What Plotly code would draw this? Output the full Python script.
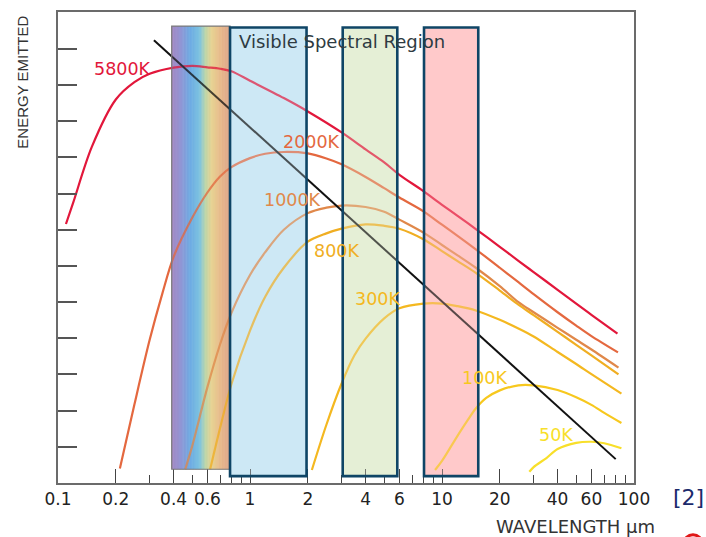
import numpy as np
import plotly.graph_objects as go

# ---------------- data (wavelength in um, energy in tick units) ----------------
wl_5800 = [0.11, 0.12, 0.15, 0.2, 0.25, 0.3, 0.4, 0.5, 0.6, 0.7, 0.8, 1, 1.5, 2, 3, 4, 5, 6, 8, 10, 12, 15, 20, 25, 30, 40, 50, 60, 82]
en_5800 = [7.16, 7.75, 9.29, 10.60, 11.08, 11.31, 11.48, 11.53, 11.49, 11.45, 11.38, 11.12, 10.64, 10.27, 9.69, 9.22, 8.86, 8.52, 8.07, 7.69, 7.39, 7.02, 6.53, 6.14, 5.83, 5.34, 4.96, 4.65, 4.13]

wl_2000 = [0.21, 0.25, 0.3, 0.35, 0.4, 0.5, 0.6, 0.7, 0.8, 1, 1.2, 1.5, 2, 2.5, 3, 4, 5, 6, 8, 10, 12, 15, 20, 25, 30, 40, 50, 60, 82.5]
en_2000 = [0.40, 2.17, 3.95, 5.25, 6.25, 7.33, 8.03, 8.48, 8.73, 8.98, 9.10, 9.15, 9.11, 8.97, 8.81, 8.46, 8.15, 7.89, 7.51, 7.14, 6.84, 6.46, 5.95, 5.55, 5.22, 4.72, 4.35, 4.06, 3.61]

wl_1000 = [0.46, 0.5, 0.6, 0.7, 0.8, 1, 1.2, 1.5, 2, 2.5, 3, 4, 5, 6, 8, 10, 12, 15, 20, 25, 30, 40, 50, 60, 83]
en_1000 = [0.38, 1.02, 2.65, 3.85, 4.70, 5.75, 6.38, 7.00, 7.46, 7.61, 7.67, 7.63, 7.50, 7.28, 6.92, 6.58, 6.30, 5.95, 5.44, 5.00, 4.72, 4.29, 3.96, 3.69, 3.19]

wl_800 = [0.62, 0.7, 0.8, 1, 1.2, 1.5, 2, 2.5, 3, 4, 5, 6, 8, 10, 12, 15, 20, 25, 30, 40, 50, 60, 83]
en_800 = [0.38, 1.54, 2.73, 4.21, 5.15, 5.95, 6.67, 6.90, 7.03, 7.15, 7.11, 7.03, 6.74, 6.41, 6.14, 5.81, 5.32, 4.93, 4.64, 4.18, 3.82, 3.53, 3.00]

wl_300 = [2.1, 2.5, 3, 3.5, 4, 5, 6, 8, 10, 12, 15, 20, 25, 30, 40, 50, 60, 86]
en_300 = [0.36, 1.61, 2.75, 3.53, 3.99, 4.55, 4.83, 4.96, 4.96, 4.89, 4.77, 4.51, 4.27, 4.05, 3.62, 3.29, 3.01, 2.47]

wl_100 = [9.2, 10, 12, 13.5, 15, 17, 20, 25, 30, 40, 50, 60, 70, 86]
en_100 = [0.36, 0.61, 1.29, 1.71, 2.06, 2.35, 2.56, 2.70, 2.70, 2.57, 2.37, 2.16, 1.94, 1.66]

wl_50 = [28.5, 30, 35, 40, 50, 60, 70, 86]
en_50 = [0.31, 0.44, 0.69, 0.94, 1.11, 1.14, 1.10, 0.96]

wien_wl = [0.316, 80.3]
wien_en = [12.24, 0.66]

curve_names = ["5800K", "2000K", "1000K", "800K", "300K", "100K", "50K"]
label_wl = [0.218, 2.08, 1.66, 2.81, 4.61, 16.55, 39.3]
label_en = [11.45, 9.42, 7.81, 6.41, 5.09, 2.91, 1.32]

spectrum_wl = [0.391, 0.787]
spectrum_en = [0.38, 12.63]
window_wl = [[0.787, 1.97], [3.04, 5.85], [8.06, 15.45]]
window_en = [0.19, 12.59]

x_tickvals = [0.1, 0.2, 0.4, 0.6, 1, 2, 4, 6, 10, 20, 40, 60, 100]
x_ticktext = ["0.1", "0.2", "0.4", "0.6", "1", "2", "4", "6", "10", "20", "40", "60", "100"]
x_minor = [0.3, 0.5, 0.7, 0.8, 0.9, 3, 5, 7, 8, 9, 30, 50, 70, 80, 90]
y_tickvals = [1, 2, 3, 4, 5, 6, 7, 8, 9, 10, 11, 12]

# ---------------- styles / layout geometry ----------------
curve_colors = ["#e2173b", "#e4683f", "#e0884a", "#f0ae22", "#f4b820", "#f7c81e", "#f8df2a"]
window_fill = ["#cde9f5", "#e6f0d6", "#ffc9ca"]
border_col = "#0f4566"
W, H = 706, 537
ML, MR, MT, MB = 58, 72, 10, 54
PW, PH = W - ML - MR, H - MT - MB
FONT = "DejaVu Sans"

def px2paper(px, py):
    return (px - ML) / PW, (MT + PH - py) / PH

fig = go.Figure()

series = [(wl_5800, en_5800), (wl_2000, en_2000), (wl_1000, en_1000), (wl_800, en_800),
          (wl_300, en_300), (wl_100, en_100), (wl_50, en_50)]
for (wl, en), name, col in zip(series, curve_names, curve_colors):
    fig.add_trace(go.Scatter(x=wl, y=en, mode="lines", name=name,
                             line=dict(color=col, width=2.2, shape="spline", smoothing=0.9),
                             hoverinfo="skip"))
fig.add_trace(go.Scatter(x=wien_wl, y=wien_en, mode="lines", line=dict(color="#111111", width=2),
                         hoverinfo="skip"))

# spectrum gradient
stops = [(0.0, (164, 136, 196)), (0.15, (148, 150, 212)), (0.32, (110, 172, 228)),
         (0.48, (126, 196, 224)), (0.58, (190, 214, 168)), (0.68, (232, 212, 148)),
         (0.84, (232, 186, 140)), (1.0, (222, 166, 140))]

def grad(t):
    for (t0, c0), (t1, c1) in zip(stops[:-1], stops[1:]):
        if t <= t1:
            f = (t - t0) / (t1 - t0)
            return tuple(int(round(a + (b - a) * f)) for a, b in zip(c0, c1))
    return stops[-1][1]

shapes = []
N = 40
l0, l1 = np.log10(spectrum_wl[0]), np.log10(spectrum_wl[1])
edges = np.linspace(l0, l1, N + 1)
for i in range(N):
    c = grad((i + 0.5) / N)
    # solid strip under the curves (slightly overlapping to hide seams)
    shapes.append(dict(type="rect", xref="x", yref="y", layer="below",
                       x0=10 ** edges[i], x1=10 ** edges[i + 1] * 1.006,
                       y0=spectrum_en[0], y1=spectrum_en[1],
                       fillcolor=f"rgb({c[0]},{c[1]},{c[2]})", line=dict(width=0)))
    # translucent tint over the curves (no overlap)
    shapes.append(dict(type="rect", xref="x", yref="y", layer="above",
                       x0=10 ** edges[i], x1=10 ** edges[i + 1],
                       y0=spectrum_en[0], y1=spectrum_en[1],
                       fillcolor=f"rgba({c[0]},{c[1]},{c[2]},0.25)", line=dict(width=0)))
shapes.append(dict(type="rect", xref="x", yref="y", layer="above",
                   x0=spectrum_wl[0], x1=spectrum_wl[1], y0=spectrum_en[0], y1=spectrum_en[1],
                   fillcolor="rgba(0,0,0,0)", line=dict(color="#7a7a7a", width=1.2)))

for (a, b), fc in zip(window_wl, window_fill):
    shapes.append(dict(type="rect", xref="x", yref="y", layer="below", x0=a, x1=b,
                       y0=window_en[0], y1=window_en[1], fillcolor=fc, line=dict(width=0)))
    r, g, bb = int(fc[1:3], 16), int(fc[3:5], 16), int(fc[5:7], 16)
    shapes.append(dict(type="rect", xref="x", yref="y", layer="above", x0=a, x1=b,
                       y0=window_en[0], y1=window_en[1], fillcolor=f"rgba({r},{g},{bb},0.3)",
                       line=dict(color=border_col, width=2.6)))

# red mark at bottom right corner
cx0, cy0 = px2paper(684, 535)
cx1, cy1 = px2paper(702, 553)
shapes.append(dict(type="circle", xref="paper", yref="paper", x0=cx0, x1=cx1, y0=cy1, y1=cy0,
                   line=dict(color="#e01818", width=3), fillcolor="rgba(0,0,0,0)"))

annotations = []
for name, lw, le, col in zip(curve_names, label_wl, label_en, curve_colors):
    annotations.append(dict(x=np.log10(lw), y=le, xref="x", yref="y", text=name, showarrow=False,
                            font=dict(family=FONT, size=17.5, color=col), xanchor="center", yanchor="middle"))

vx, vy = px2paper(237, 40)
annotations.append(dict(x=vx, y=vy, xref="paper", yref="paper", text="Visible Spectral Region",
                        showarrow=False, xanchor="left", yanchor="middle",
                        font=dict(family=FONT, size=18, color="#2e3b42")))
ex, ey = px2paper(23, 81)
annotations.append(dict(x=ex, y=ey, xref="paper", yref="paper", text="ENERGY EMITTED", textangle=-90,
                        showarrow=False, xanchor="center", yanchor="middle",
                        font=dict(family="Liberation Sans", size=15, color="#333333")))
wx, wy = px2paper(575, 527)
annotations.append(dict(x=wx, y=wy, xref="paper", yref="paper", text="WAVELENGTH μm",
                        showarrow=False, xanchor="center", yanchor="middle",
                        font=dict(family=FONT, size=18, color="#333333")))
rx, ry = px2paper(688, 498)
annotations.append(dict(x=rx, y=ry, xref="paper", yref="paper", text="[2]",
                        showarrow=False, xanchor="center", yanchor="middle",
                        font=dict(family=FONT, size=22, color="#1b2a6b")))

fig.update_layout(
    width=W, height=H, margin=dict(l=ML, r=MR, t=MT, b=MB),
    paper_bgcolor="white", plot_bgcolor="white", showlegend=False,
    shapes=shapes, annotations=annotations,
    xaxis=dict(type="log", range=[-1, 2], showgrid=False, zeroline=False,
               showline=True, linecolor="#6b6b6b", linewidth=1.6, mirror=True,
               ticks="inside", ticklen=14, tickwidth=1.3, tickcolor="#444444",
               tickvals=x_tickvals, ticktext=x_ticktext,
               tickfont=dict(family=FONT, size=17, color="#222222"),
               minor=dict(tickvals=x_minor, ticks="inside", ticklen=8, tickwidth=1.3,
                          tickcolor="#444444", showgrid=False)),
    yaxis=dict(range=[0, PH / 36.33], showgrid=False, zeroline=False,
               showline=True, linecolor="#6b6b6b", linewidth=1.6, mirror=True,
               ticks="inside", ticklen=19, tickwidth=1.5, tickcolor="#555555",
               tickvals=y_tickvals, showticklabels=False),
)

fig.write_html("out.html", config={"displayModeBar": False},
               post_script="document.body.style.margin='0px';document.body.style.overflow='hidden';")
